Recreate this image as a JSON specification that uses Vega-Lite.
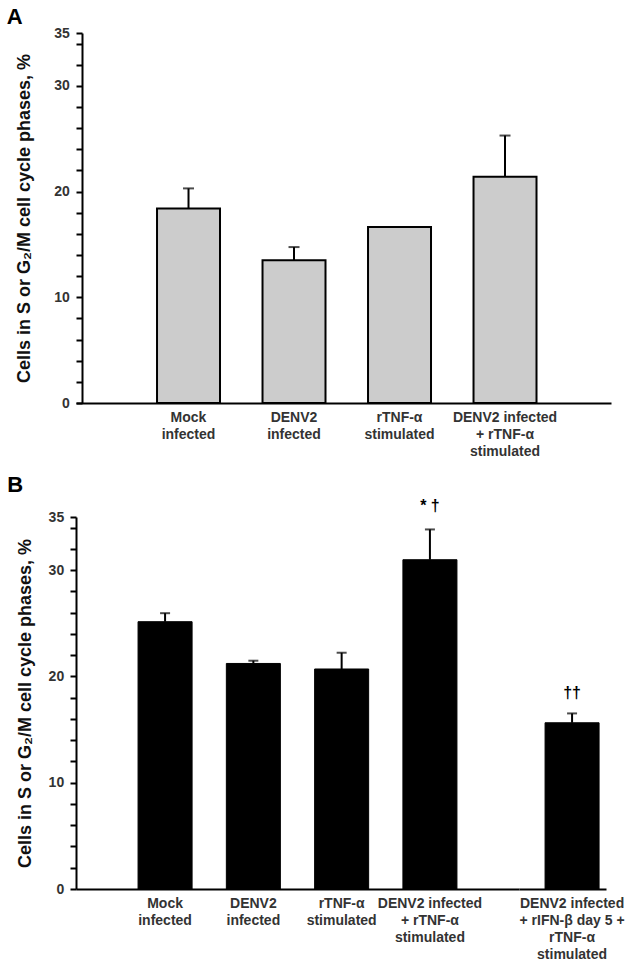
{
  "$schema": "https://vega.github.io/schema/vega-lite/v6.json",
  "padding": {"left": 6, "top": 6, "right": 10, "bottom": 5},
  "config": {
    "view": {"stroke": null},
    "font": "Liberation Sans",
    "axis": {"grid": false, "domainColor": "black", "domainWidth": 2, "labelFont": "Liberation Sans", "labelFontWeight": "bold", "labelColor": "#333333", "titleFont": "Liberation Sans", "titleFontWeight": "bold", "titleColor": "#111111", "labelOverlap": false},
    "axisY": {"tickColor": "black", "tickWidth": 2, "tickSize": 6},
    "title": {"font": "Liberation Sans", "fontSize": 22, "fontWeight": "bold", "color": "black", "anchor": "start", "frame": "bounds"}
  },
  "datasets": {
    "a": [
      {"group": "Mock\ninfected", "pct": 18.4, "sd": 1.9},
      {"group": "DENV2\ninfected", "pct": 13.5, "sd": 1.25},
      {"group": "rTNF-α\nstimulated", "pct": 16.65, "sd": null},
      {"group": "DENV2 infected\n+ rTNF-α\nstimulated", "pct": 21.4, "sd": 3.9}
    ],
    "b": [
      {"group": "Mock\ninfected", "pct": 25.15, "sd": 0.8, "sig": ""},
      {"group": "DENV2\ninfected", "pct": 21.22, "sd": 0.26, "sig": ""},
      {"group": "rTNF-α\nstimulated", "pct": 20.7, "sd": 1.53, "sig": ""},
      {"group": "DENV2 infected\n+ rTNF-α\nstimulated", "pct": 30.98, "sd": 2.85, "sig": "* †"},
      {"group": "DENV2 infected\n+ rIFN-β day 5 +\nrTNF-α\nstimulated", "pct": 15.64, "sd": 0.88, "sig": "††"}
    ]
  },
  "spacing": 16,
  "align": "none",
  "vconcat": [
    {
      "title": {"text": "A", "dx": -9, "offset": -3},
      "hconcat": [
        {
          "width": 535, "height": 370,
          "data": {"name": "a"},
          "transform": [{"calculate": "datum.pct + datum.sd", "as": "hi"}],
          "encoding": {
            "x": {"field": "group", "type": "nominal", "sort": null,
              "scale": {"domain": ["Mock\ninfected", "DENV2\ninfected", "rTNF-α\nstimulated", "DENV2 infected\n+ rTNF-α\nstimulated"], "paddingInner": 0.403, "paddingOuter": 0.737, "align": 0.521},
              "axis": {"title": null, "labelAngle": 0, "ticks": false, "labelExpr": "split(datum.label, '\\n')", "labelFontSize": 14, "labelLineHeight": 17, "labelPadding": 7, "labelBaseline": "top", "labelOverlap": false}}
          },
          "layer": [
            {"transform": [{"filter": "datum.sd > 0"}],
             "mark": {"type": "rule", "color": "black", "strokeWidth": 2},
             "encoding": {
               "y": {"field": "pct", "type": "quantitative", "scale": {"domain": [0, 35], "nice": false},
                 "axis": {"title": "Cells in S or G₂/M cell cycle phases, %", "values": [0,2,4,6,8,10,12,14,16,18,20,22,24,26,28,30,32,34,35],
                   "labelExpr": "(datum.value % 10 === 0 || datum.value === 35) ? datum.label : ''",
                   "offset": -6, "labelOverlap": false, "labelBound": false, "labelFlush": false, "labelPadding": 6.7, "labelFontSize": 14, "titleFontSize": 18, "titlePadding": 20}},
               "y2": {"field": "hi"}}},
            {"transform": [{"filter": "datum.sd > 0"}],
             "mark": {"type": "tick", "color": "black", "thickness": 2, "size": 11},
             "encoding": {"y": {"field": "hi", "type": "quantitative",
                 "axis": {"title": "Cells in S or G₂/M cell cycle phases, %", "values": [0,2,4,6,8,10,12,14,16,18,20,22,24,26,28,30,32,34,35],
                   "labelExpr": "(datum.value % 10 === 0 || datum.value === 35) ? datum.label : ''",
                   "offset": -6, "labelOverlap": false, "labelBound": false, "labelFlush": false, "labelPadding": 6.7, "labelFontSize": 14, "titleFontSize": 18, "titlePadding": 20}}}},
            {"mark": {"type": "bar", "fill": "#cccccc", "stroke": "black", "strokeWidth": 2},
             "encoding": {"y": {"field": "pct", "type": "quantitative",
                 "axis": {"title": "Cells in S or G₂/M cell cycle phases, %", "values": [0,2,4,6,8,10,12,14,16,18,20,22,24,26,28,30,32,34,35],
                   "labelExpr": "(datum.value % 10 === 0 || datum.value === 35) ? datum.label : ''",
                   "offset": -6, "labelOverlap": false, "labelBound": false, "labelFlush": false, "labelPadding": 6.7, "labelFontSize": 14, "titleFontSize": 18, "titlePadding": 20}}}}
          ]
        }
      ]
    },
    {
      "title": {"text": "B", "dx": -9, "offset": 1},
      "spacing": 0,
      "bounds": "flush",
      "hconcat": [
        {
          "width": 443, "height": 372,
          "data": {"name": "b"},
          "transform": [{"filter": "!test(/rIFN/, datum.group)"}, {"calculate": "datum.pct + datum.sd", "as": "hi"}],
          "encoding": {
            "x": {"field": "group", "type": "nominal", "sort": null,
              "scale": {"domain": ["Mock\ninfected", "DENV2\ninfected", "rTNF-α\nstimulated", "DENV2 infected\n+ rTNF-α\nstimulated"], "paddingInner": 0.388, "paddingOuter": 0.703},
              "axis": {"title": null, "labelAngle": 0, "ticks": false, "labelExpr": "split(datum.label, '\\n')", "labelFontSize": 14, "labelLineHeight": 17, "labelPadding": 7, "labelBaseline": "top", "labelOverlap": false}}
          },
          "layer": [
            {"transform": [{"filter": "datum.sd > 0"}],
             "mark": {"type": "rule", "color": "black", "strokeWidth": 2},
             "encoding": {
               "y": {"field": "pct", "type": "quantitative", "scale": {"domain": [0, 35], "nice": false},
                 "axis": {"title": "Cells in S or G₂/M cell cycle phases, %", "values": [0,2,4,6,8,10,12,14,16,18,20,22,24,26,28,30,32,34,35],
                   "labelExpr": "(datum.value % 10 === 0 || datum.value === 35) ? datum.label : ''",
                   "labelOverlap": false, "labelBound": false, "labelFlush": false, "labelPadding": 6.3, "labelFontSize": 14, "titleFontSize": 18, "titlePadding": 14}},
               "y2": {"field": "hi"}}},
            {"transform": [{"filter": "datum.sd > 0"}],
             "mark": {"type": "tick", "color": "black", "thickness": 2, "size": 10},
             "encoding": {"y": {"field": "hi", "type": "quantitative",
                 "axis": {"title": "Cells in S or G₂/M cell cycle phases, %", "values": [0,2,4,6,8,10,12,14,16,18,20,22,24,26,28,30,32,34,35],
                   "labelExpr": "(datum.value % 10 === 0 || datum.value === 35) ? datum.label : ''",
                   "labelOverlap": false, "labelBound": false, "labelFlush": false, "labelPadding": 6.3, "labelFontSize": 14, "titleFontSize": 18, "titlePadding": 14}}}},
            {"mark": {"type": "bar", "fill": "black", "stroke": "black", "strokeWidth": 1},
             "encoding": {"y": {"field": "pct", "type": "quantitative",
                 "axis": {"title": "Cells in S or G₂/M cell cycle phases, %", "values": [0,2,4,6,8,10,12,14,16,18,20,22,24,26,28,30,32,34,35],
                   "labelExpr": "(datum.value % 10 === 0 || datum.value === 35) ? datum.label : ''",
                   "labelOverlap": false, "labelBound": false, "labelFlush": false, "labelPadding": 6.3, "labelFontSize": 14, "titleFontSize": 18, "titlePadding": 14}}}},
            {"mark": {"type": "text", "font": "Liberation Sans", "fontSize": 16, "fontWeight": "bold", "color": "black", "dy": -23},
             "encoding": {"y": {"field": "hi", "type": "quantitative",
                 "axis": {"title": "Cells in S or G₂/M cell cycle phases, %", "values": [0,2,4,6,8,10,12,14,16,18,20,22,24,26,28,30,32,34,35],
                   "labelExpr": "(datum.value % 10 === 0 || datum.value === 35) ? datum.label : ''",
                   "labelOverlap": false, "labelBound": false, "labelFlush": false, "labelPadding": 6.3, "labelFontSize": 14, "titleFontSize": 18, "titlePadding": 14}}, "text": {"field": "sig"}}}
          ]
        },
        {
          "width": 87, "height": 372,
          "data": {"name": "b"},
          "transform": [{"filter": "test(/rIFN/, datum.group)"}, {"calculate": "datum.pct + datum.sd", "as": "hi"}],
          "encoding": {
            "x": {"field": "group", "type": "nominal", "sort": null,
              "scale": {"paddingInner": 0, "paddingOuter": 0.3055, "align": 0.79},
              "axis": {"title": null, "labelAngle": 0, "ticks": false, "labelExpr": "split(datum.label, '\\n')", "labelFontSize": 14, "labelLineHeight": 17, "labelPadding": 7, "labelBaseline": "top", "labelOverlap": false}}
          },
          "layer": [
            {"mark": {"type": "rule", "color": "black", "strokeWidth": 2},
             "encoding": {
               "y": {"field": "pct", "type": "quantitative", "scale": {"domain": [0, 35], "nice": false}, "axis": null},
               "y2": {"field": "hi"}}},
            {"mark": {"type": "tick", "color": "black", "thickness": 2, "size": 10},
             "encoding": {"y": {"field": "hi", "type": "quantitative", "axis": null}}},
            {"mark": {"type": "bar", "fill": "black", "stroke": "black", "strokeWidth": 1},
             "encoding": {"y": {"field": "pct", "type": "quantitative", "axis": null}}},
            {"mark": {"type": "text", "font": "Liberation Sans", "fontSize": 16, "fontWeight": "bold", "color": "black", "dy": -20},
             "encoding": {"y": {"field": "hi", "type": "quantitative", "axis": null}, "text": {"field": "sig"}}}
          ]
        }
      ]
    }
  ]
}
